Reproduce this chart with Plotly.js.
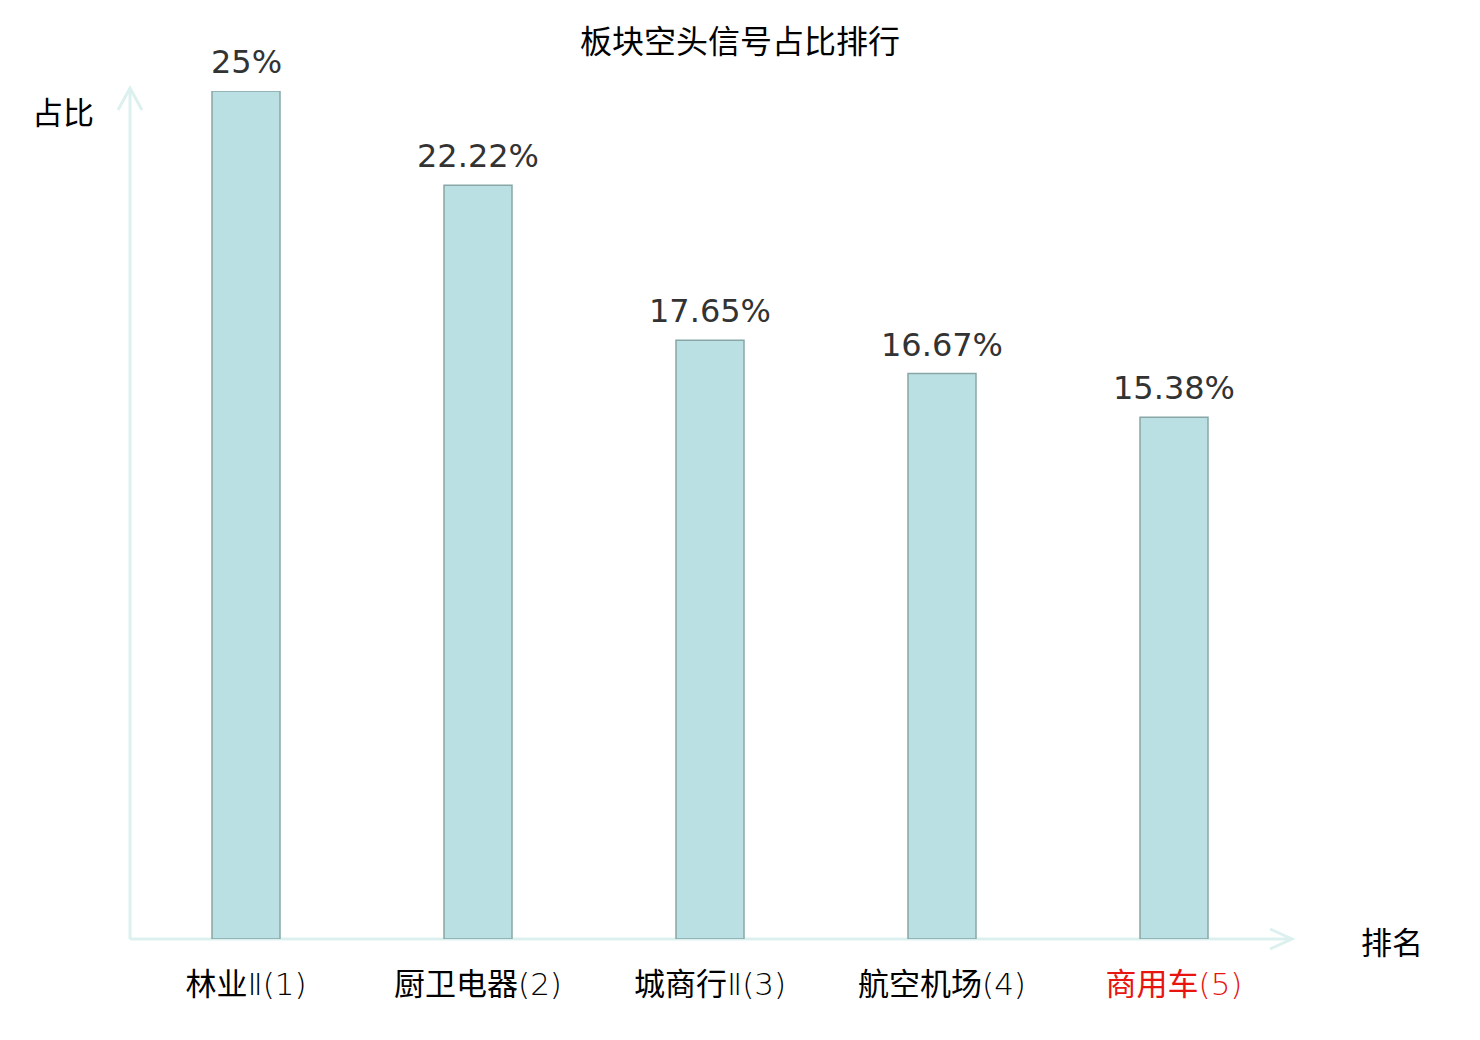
<!DOCTYPE html>
<html>
<head>
<meta charset="utf-8">
<script src="https://cdn.plot.ly/plotly-3.0.1.min.js"></script>
<style>html,body{margin:0;padding:0;background:#fff;}#chart{width:1480px;height:1040px;}</style>
</head>
<body>
<div id="chart"></div>
<script>
const categories = ['林业Ⅱ(1)', '厨卫电器(2)', '城商行Ⅱ(3)', '航空机场(4)', '商用车(5)'];
const values = [25, 22.22, 17.65, 16.67, 15.38];
const valueLabels = ['25%', '22.22%', '17.65%', '16.67%', '15.38%'];
const highlightIndex = 4;

const FONT = 'DejaVu Sans, Noto Sans CJK SC, sans-serif';
const CJK = 'Noto Sans CJK SC, DejaVu Sans, sans-serif';
const tickText = categories.map((c, i) => {
  const t = c.replace(/([Ⅱ()0-9]+)/g, '<span style="font-weight:200">$1</span>');
  return i === highlightIndex ? '<span style="color:#e8150f">' + t + '</span>' : t;
});

const trace = {
  type: 'bar',
  x: categories,
  y: values,
  width: 0.293,
  marker: {color: '#bbe0e3', line: {color: '#88a6a6', width: 1.5}},
  hoverinfo: 'skip'
};

const labelAnns = categories.map((c, i) => ({
  x: c, y: values[i], xref: 'x', yref: 'y',
  text: valueLabels[i], showarrow: false,
  yanchor: 'bottom', yshift: 8,
  font: {family: FONT, size: 32, color: '#333333'}
}));

const axisColor = '#dcf1ef';
const layout = {
  width: 1480, height: 1040,
  paper_bgcolor: '#ffffff', plot_bgcolor: '#ffffff',
  margin: {l: 130, r: 190, t: 91, b: 101},
  showlegend: false,
  font: {family: FONT, color: '#000'},
  title: {text: '板块空头信号占比排行', x: 0.5, xanchor: 'center', y: 0.96, yanchor: 'middle',
          font: {family: CJK, size: 32, color: '#000'}},
  xaxis: {
    type: 'category', tickmode: 'array', tickvals: categories, ticktext: tickText,
    showgrid: false, zeroline: false, showline: false, ticks: '',
    ticklabelstandoff: 24,
    tickfont: {family: FONT, size: 31, color: '#000'},
    range: [-0.5, 4.5], fixedrange: true
  },
  yaxis: {
    range: [0, 25], showgrid: false, zeroline: false, showline: false,
    showticklabels: false, ticks: '', fixedrange: true
  },
  shapes: [
    {type: 'line', xref: 'paper', yref: 'paper', x0: 0, x1: 1.0017, y0: 0, y1: 0, line: {color: axisColor, width: 3}, layer: 'below'},
    {type: 'line', xref: 'paper', yref: 'paper', x0: 0, x1: 0, y0: 0, y1: 1.0035, line: {color: axisColor, width: 3}, layer: 'below'},
    {type: 'path', xref: 'paper', yref: 'paper', path: 'M 0.9828 0.0118 L 1.0017 0 L 0.9828 -0.0118', line: {color: axisColor, width: 3}, layer: 'below'},
    {type: 'path', xref: 'paper', yref: 'paper', path: 'M -0.0103 0.9776 L 0 1.0035 L 0.0103 0.9776', line: {color: axisColor, width: 3}, layer: 'below'}
  ],
  annotations: labelAnns.concat([
    {text: '占比', xref: 'paper', yref: 'paper', x: -0.0578, y: 0.977, xanchor: 'center', yanchor: 'middle', showarrow: false,
     font: {family: CJK, size: 31, color: '#000'}},
    {text: '排名', xref: 'paper', yref: 'paper', x: 1.088, y: -0.002, xanchor: 'center', yanchor: 'middle', showarrow: false,
     font: {family: CJK, size: 31, color: '#000'}}
  ])
};

Plotly.newPlot('chart', [trace], layout, {displayModeBar: false, staticPlot: true});
</script>
</body>
</html>
